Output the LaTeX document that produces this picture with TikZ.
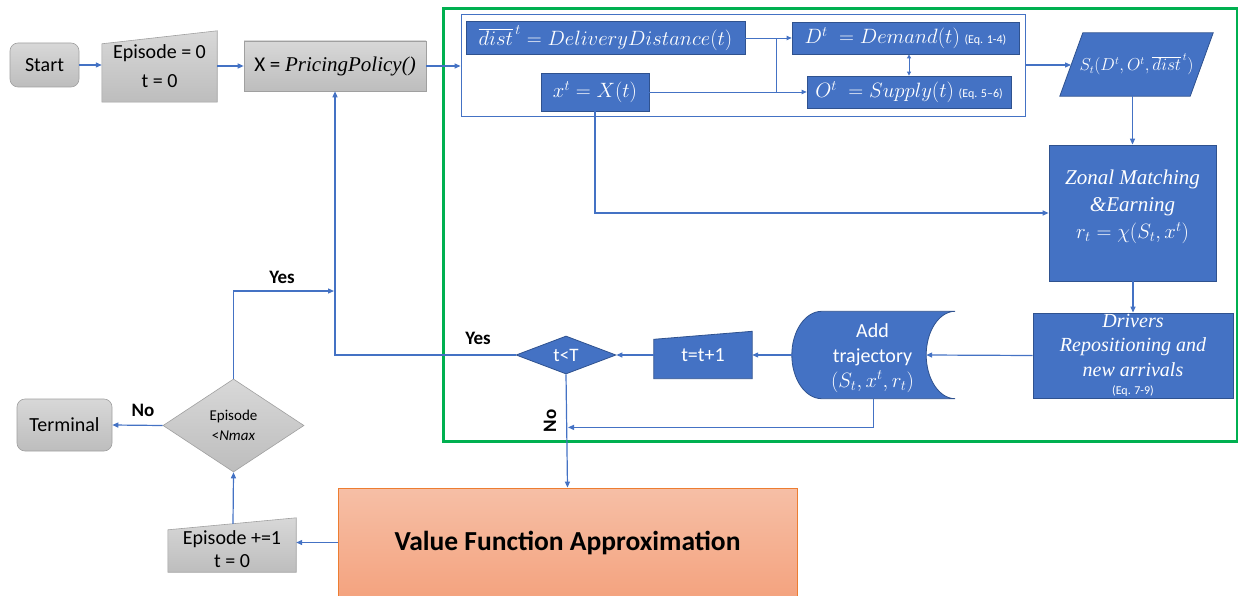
\documentclass[tikz,border=0pt]{standalone}
\usepackage{fontspec}
\setmainfont{Carlito}
\newfontfamily\srf{Liberation Serif}
\usetikzlibrary{arrows.meta,calc,shapes.geometric}
\definecolor{obl}{HTML}{4472C4}
\definecolor{obd}{HTML}{2F528F}
\definecolor{gfr}{HTML}{00B050}
\definecolor{gbd}{HTML}{A0A0A0}
\definecolor{gtop}{HTML}{D8D8D8}
\definecolor{gbot}{HTML}{BDBDBD}
\definecolor{vfo}{HTML}{ED7D31}
\definecolor{vtop}{HTML}{F6BFA6}
\definecolor{vbot}{HTML}{F4A37F}
\pgfdeclarelayer{bg}
\pgfsetlayers{bg,main}
\tikzset{
  blk/.style={draw=obd, line width=0.8pt, fill=obl, text=white, inner sep=0pt, align=center},
  blkpath/.style={draw=obd, line width=0.8pt, fill=obl},
  gry/.style={draw=gbd, line width=0.6pt, top color=gtop, bottom color=gbot, text=black, inner sep=0pt, align=center},
  grypath/.style={draw=gbd, line width=0.6pt, top color=gtop, bottom color=gbot},
  plain/.style={inner sep=0pt, align=center},
  arr/.style={draw=obl, line width=1.2pt, -{Triangle[length=6pt,width=5pt]}},
  arrs/.style={draw=obl, line width=0.9pt, -{Triangle[length=5pt,width=4.5pt]}},
  ln/.style={draw=obl, line width=1.2pt},
  lns/.style={draw=obl, line width=0.9pt},
  lbl/.style={font=\bfseries\fontsize{19}{21}\selectfont, text=black, inner sep=0pt},
  f20/.style={font=\fontsize{20}{24}\selectfont},
}
\begin{document}
\begin{tikzpicture}[x=1pt,y=-1pt]
\useasboundingbox (0,0) rectangle (1238,596);

% ---- initialisation row ----
\node[gry, rounded corners=8pt, minimum width=69pt, minimum height=44pt, f20] (start) at (44.5,65) {Start};
\node[plain, minimum width=115pt, minimum height=71pt, font=\fontsize{20}{29}\selectfont] (ep0) at (159.5,66.5) {Episode = 0\\t = 0};
\node[gry, minimum width=182pt, minimum height=50pt, font=\fontsize{21}{24}\selectfont] (pol) at (335,66) {X = {\srf\itshape PricingPolicy()}};

% ---- simulation loop ----
\node[draw=gfr, line width=3pt, minimum width=794pt, minimum height=432pt, inner sep=0pt] (loop) at (840,225) {};
\node[draw=obl, line width=0.9pt, minimum width=564pt, minimum height=102pt, inner sep=0pt] (inner) at (743,65) {};

\node[blk, minimum width=279pt, minimum height=33pt, font=\fontsize{21}{24}\selectfont] (dist) at (605.5,38) {$\overline{dist}^{\,t} = DeliveryDistance(t)$};
\node[blk, minimum width=108pt, minimum height=38pt, font=\fontsize{21}{24}\selectfont] (xt) at (595,92) {$x^t = X(t)$};
\node[blk, minimum width=227pt, minimum height=32pt, font=\fontsize{21}{24}\selectfont] (dem) at (905.5,38) {$D^t\;= Demand(t)$ {\fontsize{12}{14}\selectfont (Eq. 1-4)}};
\node[blk, minimum width=204pt, minimum height=32pt, font=\fontsize{21}{24}\selectfont] (sup) at (909,92) {$O^t\;= Supply(t)$ {\fontsize{12}{14}\selectfont (Eq. 5--6)}};
\coordinate (jn) at (776,92);

\node[plain, minimum width=153pt, minimum height=63pt, text=white, font=\fontsize{16}{20}\selectfont] (st) at (1136.5,64.5) {$S_t\big(D^t, O^t, \overline{dist}^{\,t}\big)$};
\coordinate (stin) at (1071,65);

\node[blk, minimum width=167pt, minimum height=136pt] (zon) at (1132.5,213) {};
\node[plain, text=white, font=\fontsize{21}{27}\selectfont] (zontxt) at ($(zon.center)+(0,-6)$)
  {{\srf\itshape Zonal Matching}\\{\srf\itshape \&Earning}\\$r_t = \chi\big(S_t, x^t\big)$};
\node[blk, minimum width=200pt, minimum height=85pt, font=\fontsize{20}{24.5}\selectfont] (drv) at (1133,355.5)
  {{\srf\itshape Drivers}\\{\srf\itshape Repositioning and}\\{\srf\itshape new arrivals}\\[-6pt]{\fontsize{12}{13}\selectfont (Eq. 7-9)}};

\node[plain, minimum width=163pt, minimum height=87pt] (addt) at (873.5,355) {};
\node[plain, text=white, font=\fontsize{20}{25}\selectfont] (addtxt) at ($(addt.center)+(-1,3)$) {Add\\trajectory\\$(S_t, x^t, r_t)$};
\coordinate (addin) at ($(addt.east)+(-29,0)$);

\node[plain, minimum width=98pt, minimum height=47pt, text=white, f20] (tpl) at (703,355) {t=t+1};
\node[shape=diamond, aspect=2.6, blk, draw=obd, minimum width=100pt, minimum height=38pt, font=\fontsize{19}{22}\selectfont] (tlt) at (566,355) {t<T};

% ---- episode control ----
\node[shape=diamond, aspect=1.5, gry, minimum width=141pt, minimum height=93pt, font=\fontsize{15}{20}\selectfont] (epd) at (233.5,425.5) {Episode\\<\textit{Nmax}};
\node[gry, rounded corners=8pt, minimum width=95pt, minimum height=52pt, f20] (term) at (64.5,425) {Terminal};
\node[plain, minimum width=128pt, minimum height=54pt] (epi) at (232,545) {};
\node[plain, font=\fontsize{20}{23}\selectfont] (epitxt) at ($(epi.center)+(0,4)$) {Episode +=1\\t = 0};
\node[draw=vfo, line width=0.8pt, top color=vtop, bottom color=vbot, minimum width=459pt, minimum height=109pt, inner sep=0pt,
      font=\bfseries\fontsize{27.5}{30}\selectfont] (vfa) at (567.5,542.5) {Value Function Approximation};

% ---- outlines of the special shapes ----
\begin{pgfonlayer}{bg}
  \path[grypath] (ep0.south west) -- (ep0.south east) -- (ep0.north east) -- ($(ep0.north west)+(0,13)$) -- cycle;
  \path[grypath] (epi.south west) -- (epi.south east) -- (epi.north east) -- ($(epi.north west)+(0,12)$) -- cycle;
  \path[blkpath] (tpl.south west) -- (tpl.south east) -- (tpl.north east) -- ($(tpl.north west)+(0,8)$) -- cycle;
  \path[blkpath] ($(st.north west)+(23,0)$) -- (st.north east) -- ($(st.south east)+(-23,0)$) -- (st.south west) -- cycle;
  \path[blkpath] ($(addt.north west)+(30,0)$) -- (addt.north east)
     .. controls ($(addt.north east)+(-16,0)$) and ($(addt.east)+(-29,-24)$) .. (addin)
     .. controls ($(addt.east)+(-29,24)$) and ($(addt.south east)+(-16,0)$) .. (addt.south east)
     -- ($(addt.south west)+(30,0)$)
     .. controls ($(addt.south west)+(13.4,0)$) and ($(addt.west)+(0,24)$) .. (addt.west)
     .. controls ($(addt.west)+(0,-24)$) and ($(addt.north west)+(13.4,0)$) .. ($(addt.north west)+(30,0)$) -- cycle;
\end{pgfonlayer}

% ---- connectors ----
\draw[arr] (start.east) -- (start.east -| ep0.west);
\draw[arr] (ep0.east |- pol.west) -- (pol.west);
\draw[arr] (pol.east) -- (pol.east -| inner.west);

\draw[lns] (dist.east) -| (jn);
\draw[arrs] (dist.east -| jn) -- (dem.west);
\draw[arrs] (xt.east) -- (sup.west);
\draw[lns, {Triangle[length=4pt,width=4pt]}-{Triangle[length=4pt,width=4pt]}] (dem.south -| sup.north) -- (sup.north);

\draw[arr] (inner.east |- stin) -- (stin);
\draw[arr] (zon.north |- st.south) -- (zon.north);
\draw[arr] (xt.south) |- (zon.west);
\draw[arr] (zon.south -| drv.north) -- (drv.north);
\draw[arr] (drv.west) -- (addin);
\draw[arr] (addt.west) -- (tpl.east);
\draw[arr] (tpl.west) -- (tlt.east);
\draw[arr] (tlt.west) -| (pol.south);
\node[lbl] (yes2) at (478,338) {Yes};

\draw[arr] (tlt.south) -- (vfa.north);
\coordinate (back) at ($(tlt.south)+(2,53)$);
\draw[arr] (addt.south) |- (back);
\node[lbl, rotate=90] (no2) at (550,421) {No};

\draw[arr] (vfa.west) -- (vfa.west -| epi.east);
\draw[arr] ($(epi.north)+(1,6)$) -- (epd.south);
\draw[arr] (epd.west) -- (term.east);
\node[lbl] (no1) at (143,410) {No};
\coordinate (mrg) at (334,291);
\draw[arr] (epd.north) |- (mrg);
\node[lbl] (yes1) at (282,277) {Yes};
\end{tikzpicture}
\end{document}
